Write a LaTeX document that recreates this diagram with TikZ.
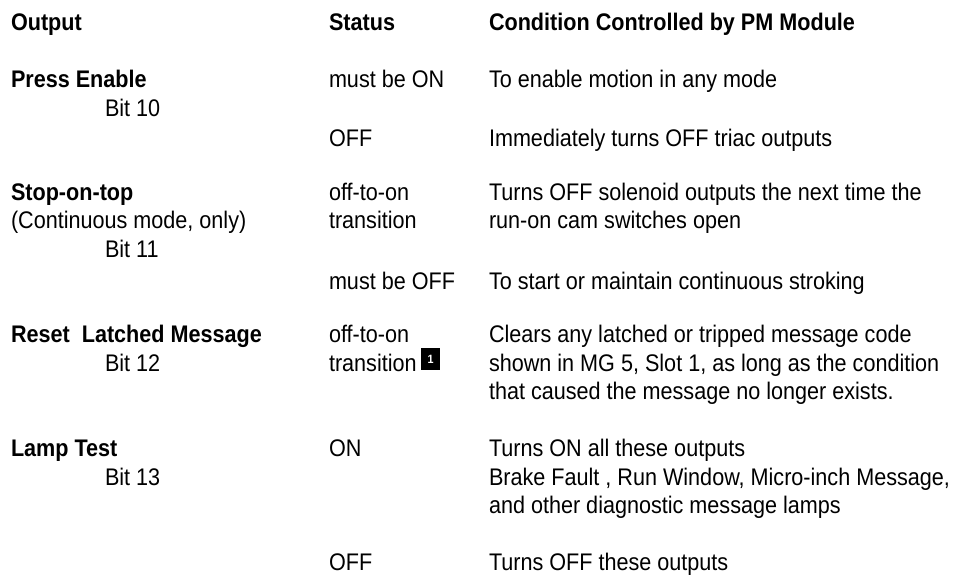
\documentclass[tikz,border=0pt]{standalone}
\usepackage{fontspec}
\setmainfont{Liberation Sans}[FakeStretch=0.9]
\begin{document}
\begin{tikzpicture}[x=1pt,y=-1pt,
  cell/.style={anchor=base west,inner sep=0pt,outer sep=0pt,text=black,
    font=\fontsize{24}{29}\selectfont},
  head/.style={cell,font=\fontsize{24}{29}\selectfont\bfseries},
  notebox/.style={fill=black,text=white,inner sep=0pt,minimum width=19pt,
    minimum height=22pt,font=\fontsize{12}{12}\selectfont\bfseries}]
\useasboundingbox (0,0) rectangle (959,578);

% column headings
\node[head] (hout)  at (11,31)  {Output};
\node[head] (hstat) at (329,31) {Status};
\node[head] (hcond) at (489,31) {Condition Controlled by PM Module};

% Press Enable
\node[head] (o1)  at (11,88)   {Press Enable};
\node[cell] (b1)  at (105,117) {Bit 10};
\node[cell] (s1a) at (329,88)  {must be ON};
\node[cell] (c1a) at (489,88)  {To enable motion in any mode};
\node[cell] (s1b) at (329,146) {OFF};
\node[cell] (c1b) at (489,146) {Immediately turns OFF triac outputs};

% Stop-on-top
\node[head] (o2)   at (11,200)  {Stop-on-top};
\node[cell] (o2n)  at (11,228)  {(Continuous mode, only)};
\node[cell] (b2)   at (105,257) {Bit 11};
\node[cell] (s2a)  at (329,200) {off-to-on};
\node[cell] (s2a2) at (329,228) {transition};
\node[cell] (c2a)  at (489,200) {Turns OFF solenoid outputs the next time the};
\node[cell] (c2a2) at (489,228) {run-on cam switches open};
\node[cell] (s2b)  at (329,289) {must be OFF};
\node[cell] (c2b)  at (489,289) {To start or maintain continuous stroking};

% Reset Latched Message
\node[head] (o3)   at (11,342)  {Reset~~Latched Message};
\node[cell] (b3)   at (105,371) {Bit 12};
\node[cell] (s3)   at (329,342) {off-to-on};
\node[cell] (s32)  at (329,371) {transition};
\node[notebox] (n1) at (430.5,359) {1};
\node[cell] (c3)   at (489,342) {Clears any latched or tripped message code};
\node[cell] (c32)  at (489,371) {shown in MG 5, Slot 1, as long as the condition};
\node[cell] (c33)  at (489,399) {that caused the message no longer exists.};

% Lamp Test
\node[head] (o4)   at (11,456)  {Lamp Test};
\node[cell] (b4)   at (105,485) {Bit 13};
\node[cell] (s4a)  at (329,456) {ON};
\node[cell] (c4a)  at (489,456) {Turns ON all these outputs};
\node[cell] (c4a2) at (489,485) {Brake Fault , Run Window, Micro-inch Message,};
\node[cell] (c4a3) at (489,513) {and other diagnostic message lamps};
\node[cell] (s4b)  at (329,570) {OFF};
\node[cell] (c4b)  at (489,570) {Turns OFF these outputs};
\end{tikzpicture}
\end{document}
